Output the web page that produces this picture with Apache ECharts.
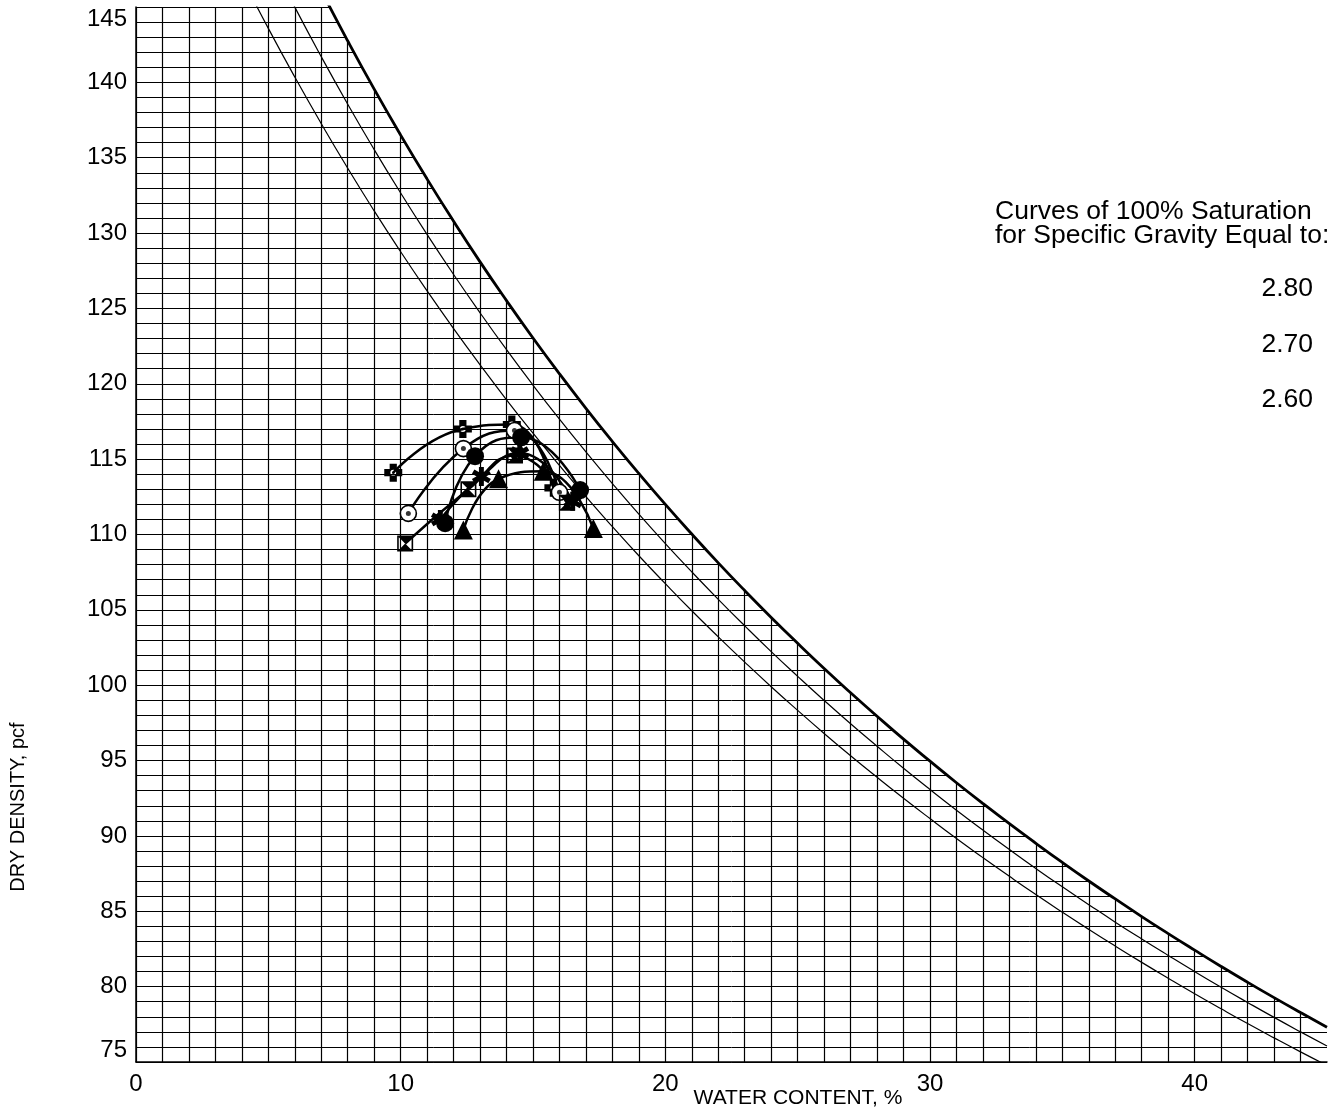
<!DOCTYPE html>
<html><head><meta charset="utf-8">
<script src="https://cdn.jsdelivr.net/npm/echarts@6/dist/echarts.min.js"></script>
<style>html,body{margin:0;padding:0;background:#fff}#c{width:1344px;height:1111px}</style>
</head><body><div id="c"></div>
<script>
// ---- tick labels ----
const xTickLabels = [0, 10, 20, 30, 40];
const yTickLabels = [75, 80, 85, 90, 95, 100, 105, 110, 115, 120, 125, 130, 135, 140, 145];

// ---- 100% saturation curves (water content %, dry density pcf) ----
const satWater = [4,5,6,7,8,9,10,11,12,13,14,15,16,17,18,19,20,21,22,23,24,25,26,27,28,29,30,31,32,33,34,35,36,37,38,39,40,41,42,43,44,45];
const sat280 = [157.13,153.26,149.59,146.09,142.75,139.55,136.50,133.58,130.78,128.09,125.52,123.04,120.66,118.37,116.17,114.05,112.00,110.03,108.12,106.28,104.50,102.78,101.11,99.50,97.94,96.42,94.96,93.53,92.15,90.81,89.51,88.24,87.01,85.82,84.65,83.52,82.42,81.34,80.29,79.27,78.28,77.31];
const sat270 = [152.06,148.44,144.99,141.70,138.55,135.54,132.66,129.90,127.25,124.71,122.26,119.91,117.65,115.48,113.38,111.35,109.40,107.52,105.70,103.94,102.23,100.59,98.99,97.44,95.95,94.49,93.08,91.71,90.39,89.10,87.84,86.62,85.44,84.28,83.16,82.07,81.00,79.96,78.95,77.96,77.00,76.06];
const sat260 = [146.96,143.58,140.35,137.26,134.30,131.47,128.76,126.16,123.66,121.26,118.94,116.72,114.58,112.51,110.52,108.59,106.74,104.94,103.21,101.53,99.90,98.33,96.80,95.32,93.89,92.50,91.15,89.83,88.56,87.32,86.11,84.94,83.80,82.69,81.61,80.56,79.53,78.53,77.55,76.60,75.67,74.77];

// ---- compaction test points ----
const plusWater = [9.72, 12.35, 14.2, 15.77];
const plusDensity = [114.1, 117.0, 117.3, 113.1];
const dotCircleWater = [10.29, 12.37, 14.3, 16.0];
const dotCircleDensity = [111.4, 115.7, 116.9, 112.8];
const discWater = [11.68, 12.81, 14.55, 16.78];
const discDensity = [110.75, 115.2, 116.45, 112.95];
const hourglassWater = [10.17, 12.56, 14.32, 16.28];
const hourglassDensity = [109.4, 113.0, 115.25, 112.1];
const starWater = [11.5, 13.05, 14.5, 16.5];
const starDensity = [111.0, 113.85, 115.4, 112.2];
const triWater = [12.37, 13.7, 15.39, 17.28];
const triDensity = [110.3, 113.7, 114.2, 110.4];

const zip = (a, b) => a.map((v, i) => [v, b[i]]);
const FONT = '"Liberation Sans", Arial, Helvetica, sans-serif';

const SYM_PLUS = 'path://M3,0H7V3H10V7H7V10H3V7H0V3H3Z M5,3.4A1.6,1.6 0 1 0 5,6.6A1.6,1.6 0 1 0 5,3.4Z M5,4.3A0.7,0.7 0 1 1 5,5.7A0.7,0.7 0 1 1 5,4.3Z';
const SYM_HOURGLASS = 'path://M0,0H10V10H0Z M1,1V9H9V1Z M1,1H9L5,5Z M1,9L5,5L9,9Z';
function asteriskPath() {
  const c = 10, L = 10, t = 2.6;
  let s = 'path://';
  [90, 30, 150].forEach(a => {
    const r = a * Math.PI / 180, dx = Math.cos(r), dy = Math.sin(r), nx = -dy, ny = dx;
    const pts = [[c + L*dx + t*nx, c + L*dy + t*ny], [c + L*dx - t*nx, c + L*dy - t*ny],
                 [c - L*dx - t*nx, c - L*dy - t*ny], [c - L*dx + t*nx, c - L*dy + t*ny]];
    s += 'M' + pts.map(p => p[0].toFixed(2) + ',' + p[1].toFixed(2)).join('L') + 'Z ';
  });
  return s;
}
const SYM_STAR = asteriskPath();

const blackLine = { color: '#000', width: 2.5 };
function testSeries(name, w, d, symbol, size, extra) {
  return Object.assign({
    name, type: 'line', data: zip(w, d), smooth: true,
    symbol, symbolSize: size, symbolKeepAspect: true,
    itemStyle: { color: '#000' }, lineStyle: blackLine, z: 3
  }, extra || {});
}

const chart = echarts.init(document.getElementById('c'), null, { renderer: 'canvas' });
chart.setOption({
  animation: false,
  backgroundColor: '#fff',
  textStyle: { fontFamily: FONT },
  grid: { left: 136, right: 17, top: 7, bottom: 49, containLabel: false },
  xAxis: {
    type: 'value', min: 0, max: 45, interval: 1,
    axisLine: { show: true, lineStyle: { color: '#000', width: 1.5 } },
    axisTick: { show: false },
    splitLine: { show: true, showMaxLine: false, lineStyle: { color: '#000', width: 1.2 } },
    axisLabel: {
      color: '#000', fontSize: 24, fontFamily: FONT, margin: 10,
      formatter: v => xTickLabels.includes(v) ? String(v) : ''
    }
  },
  yAxis: {
    type: 'value', min: 75, max: 145, interval: 1,
    axisLine: { show: true, lineStyle: { color: '#000', width: 1.5 } },
    axisTick: { show: false },
    splitLine: { show: true, lineStyle: { color: '#000', width: 1 } },
    axisLabel: {
      color: '#000', fontSize: 24, fontFamily: FONT, margin: 9,
      verticalAlignMinLabel: 'bottom', verticalAlignMaxLabel: 'top',
      formatter: v => yTickLabels.includes(v) ? String(v) : ''
    }
  },
  series: [
    { name: 'Gs 2.60', type: 'line', data: zip(satWater, sat260), smooth: true, symbol: 'none',
      lineStyle: { color: '#000', width: 1.2 }, z: 2 },
    { name: 'Gs 2.70', type: 'line', data: zip(satWater, sat270), smooth: true, symbol: 'none',
      lineStyle: { color: '#000', width: 1.2 }, z: 2 },
    { name: 'Gs 2.80', type: 'line', data: zip(satWater, sat280), smooth: true, symbol: 'none',
      lineStyle: { color: '#000', width: 2.8 },
      areaStyle: { color: '#fff', opacity: 1, origin: 'end' }, z: 2 },
    testSeries('plus', plusWater, plusDensity, SYM_PLUS, 18),
    testSeries('dotCircle', dotCircleWater, dotCircleDensity, 'circle', 16,
      { itemStyle: { color: '#fff', borderColor: '#000', borderWidth: 1.6 } }),
    { name: 'dotCircleCenter', type: 'scatter', data: zip(dotCircleWater, dotCircleDensity),
      symbol: 'circle', symbolSize: 5, itemStyle: { color: '#000' }, z: 4 },
    testSeries('disc', discWater, discDensity, 'circle', 18),
    testSeries('hourglass', hourglassWater, hourglassDensity, SYM_HOURGLASS, 16),
    testSeries('star', starWater, starDensity, SYM_STAR, 19),
    testSeries('triangle', triWater, triDensity, 'triangle', 19)
  ],
  graphic: [
    { type: 'text', x: 798, y: 1098, z: 10,
      style: { text: 'WATER CONTENT, %', font: '21px ' + FONT, fill: '#000',
               align: 'center', verticalAlign: 'middle', textAlign: 'center', textVerticalAlign: 'middle' } },
    { type: 'text', x: 18, y: 807, rotation: Math.PI / 2, z: 10,
      style: { text: 'DRY DENSITY, pcf', font: '20px ' + FONT, fill: '#000',
               align: 'center', verticalAlign: 'middle', textAlign: 'center', textVerticalAlign: 'middle' } },
    { type: 'text', x: 995, y: 212, z: 10,
      style: { text: 'Curves of 100% Saturation', font: '26.5px ' + FONT, fill: '#000',
               align: 'left', verticalAlign: 'middle', textAlign: 'left', textVerticalAlign: 'middle' } },
    { type: 'text', x: 995, y: 235.5, z: 10,
      style: { text: 'for Specific Gravity Equal to:', font: '26.5px ' + FONT, fill: '#000',
               align: 'left', verticalAlign: 'middle', textAlign: 'left', textVerticalAlign: 'middle' } },
    { type: 'text', x: 1313, y: 289, z: 10,
      style: { text: '2.80', font: '26.5px ' + FONT, fill: '#000',
               align: 'right', verticalAlign: 'middle', textAlign: 'right', textVerticalAlign: 'middle' } },
    { type: 'text', x: 1313, y: 345, z: 10,
      style: { text: '2.70', font: '26.5px ' + FONT, fill: '#000',
               align: 'right', verticalAlign: 'middle', textAlign: 'right', textVerticalAlign: 'middle' } },
    { type: 'text', x: 1313, y: 400, z: 10,
      style: { text: '2.60', font: '26.5px ' + FONT, fill: '#000',
               align: 'right', verticalAlign: 'middle', textAlign: 'right', textVerticalAlign: 'middle' } }
  ]
});
</script>
</body></html>
